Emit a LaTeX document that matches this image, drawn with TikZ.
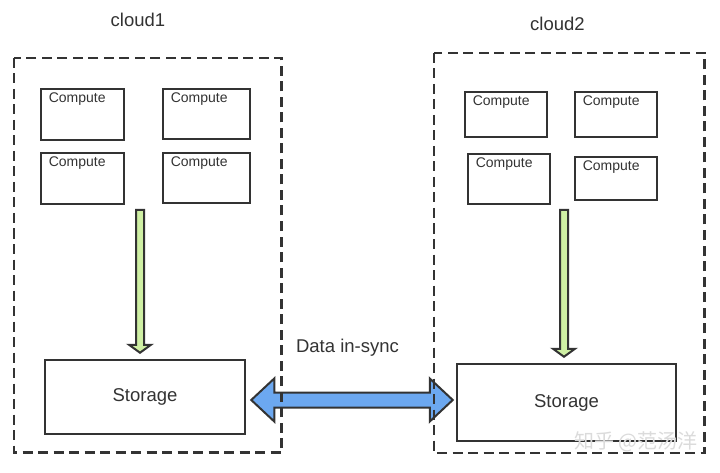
\documentclass[tikz,border=0pt]{standalone}
\usepackage{fontspec}
\setmainfont{Liberation Sans}
\newfontfamily\cjkfont{Noto Sans CJK SC}
\usetikzlibrary{calc}

\definecolor{ink}{HTML}{333333}
\definecolor{leaf}{HTML}{CFF0A4}
\definecolor{sky}{HTML}{6CA8F0}

\tikzset{
  cloudbox/.style={draw=ink, line width=2.8pt, dash pattern=on 10pt off 5.5pt},
  computebox/.style={draw=ink, line width=2.7pt, inner sep=0pt},
  computelabel/.style={anchor=north west, inner sep=0pt, font=\fontsize{14}{15}\selectfont, text=ink},
  storagebox/.style={draw=ink, line width=2.5pt, inner sep=0pt,
    font=\fontsize{18.5}{20}\selectfont, text=ink},
  title/.style={font=\fontsize{18.5}{20}\selectfont, text=ink, inner sep=0pt},
  fatarrow/.style={draw=ink, line width=2pt, line join=miter},
}

\begin{document}
\begin{tikzpicture}[x=1pt,y=-1pt]
  \useasboundingbox (0,0) rectangle (720,473);
  \fill[white] (0,0) rectangle (720,473);

  % titles
  \node[title] (t1) at (138,20) {cloud1};
  \node[title] (t2) at (557.5,24) {cloud2};

  % compute nodes, cloud1
  \node[computebox, minimum width=83, minimum height=51] (c11) at (82.5,114.5) {};
  \node[computebox, minimum width=87, minimum height=50] (c12) at (206.5,114) {};
  \node[computebox, minimum width=83, minimum height=51] (c13) at (82.5,178.5) {};
  \node[computebox, minimum width=87, minimum height=50] (c14) at (206.5,178) {};
  % compute nodes, cloud2
  \node[computebox, minimum width=82, minimum height=45] (c21) at (506,114.5) {};
  \node[computebox, minimum width=82, minimum height=45] (c22) at (616,114.5) {};
  \node[computebox, minimum width=82, minimum height=50] (c23) at (509,179) {};
  \node[computebox, minimum width=82, minimum height=43] (c24) at (616,178.5) {};

  \foreach \c in {c11,c12,c13,c14,c21,c22,c23,c24}
    \node[computelabel] (\c l) at ($(\c.north west)+(9,5)$) {Compute};

  % storage nodes
  \node[storagebox, minimum width=200, minimum height=74] (s1) at (145,397) {Storage};
  \node[storagebox, minimum width=219, minimum height=77] (s2) at (566.5,402.5) {Storage};

  % green arrows from the compute groups down to storage
  \coordinate (g1) at (140,210);
  \coordinate (g2) at (564,210);
  \foreach \g/\s in {g1/s1,g2/s2}{
    \coordinate (\g tip) at (\g |- \s.north);
    \path[fatarrow, fill=leaf]
      ($(\g)+(-4,0)$) -- ($(\g)+(4,0)$) -- ($(\g tip)+(4,-14)$) -- ($(\g tip)+(11,-14)$)
      -- ($(\g tip)+(0,-6)$) -- ($(\g tip)+(-11,-14)$) -- ($(\g tip)+(-4,-14)$) -- cycle;
  }

  % data sync double arrow between the two storage nodes
  \coordinate (dl) at ($(s1.east)+(5,3)$);
  \coordinate (dr) at ($(s2.west)+(-3,-2.5)$);
  \path[fatarrow, fill=sky]
    (dl) -- ($(dl)+(23,-21.5)$) -- ($(dl)+(23,-7.5)$) -- ($(dr)+(-23,-7.5)$)
    -- ($(dr)+(-23,-21.5)$) -- (dr) -- ($(dr)+(-23,21.5)$) -- ($(dr)+(-23,7.5)$)
    -- ($(dl)+(23,7.5)$) -- ($(dl)+(23,21.5)$) -- cycle;
  \node[title] (sync) at (347.5,348) {Data in-sync};

  % cloud boundaries
  \draw[cloudbox] (14,58) rectangle (281.5,452.5);
  \draw[cloudbox] (434,53) rectangle (704.5,453);

  % signature
  \node[font=\cjkfont\fontsize{20}{22}\selectfont, text=white, draw=none,
        inner sep=0pt] (sigbg) at (636,442) {知乎 @范汤洋};
  \node[font=\cjkfont\fontsize{20}{22}\selectfont, text=gray!35, opacity=0.8,
        inner sep=0pt] (sig) at (636,442) {知乎 @范汤洋};
\end{tikzpicture}
\end{document}
